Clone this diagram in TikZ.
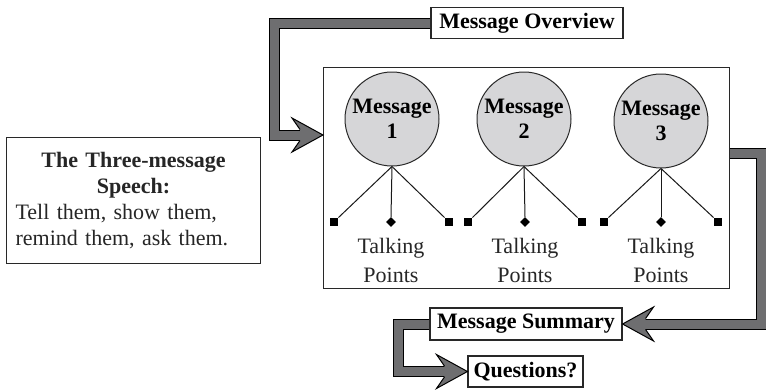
\documentclass[tikz,border=0pt]{standalone}
\usepackage{fontspec}
\setmainfont{Liberation Serif}
\usetikzlibrary{calc,shapes.geometric}
\definecolor{bandgray}{RGB}{110,110,112}
\definecolor{circgray}{RGB}{214,214,216}
\definecolor{edgegray}{RGB}{40,40,40}
\tikzset{
  box/.style={draw=edgegray, line width=1.1pt, fill=white, inner sep=0pt,
    font=\fontsize{22}{26}\selectfont\bfseries},
  msg/.style={circle, draw=edgegray, line width=1pt, fill=circgray,
    minimum size=94pt, inner sep=0pt, align=center,
    font=\fontsize{22}{25}\selectfont\bfseries},
  sq/.style={rectangle, fill=black, minimum size=8.5pt, inner sep=0pt},
  dm/.style={diamond, fill=black, minimum size=10pt, inner sep=0pt},
  tp/.style={align=center, font=\fontsize{22}{29}\selectfont, text=black!85},
  link/.style={line width=1pt, draw=black!90},
  band/.style={line width=1pt, double=bandgray, double distance=9pt, line join=miter},
  headtip/.pic={
    \fill[bandgray] (0,0) -- (-31,-17) -- (-23,-5.5) -- (-23,5.5) -- (-31,17) -- cycle;
    \draw[line width=1pt, line join=miter] (-23,-5.5) -- (-31,-17) -- (0,0) -- (-31,17) -- (-23,5.5);
  }
}
\begin{document}
\begin{tikzpicture}[x=1pt, y=-1pt]
\useasboundingbox (0,0) rectangle (766,389);

% main frame
\node[draw=edgegray, line width=1.1pt, fill=white, minimum width=406pt, minimum height=221pt,
      inner sep=0pt, anchor=north west] (main) at (323,67) {};

% left box
\node[draw=edgegray, line width=1.1pt, fill=white, minimum width=254pt, minimum height=126pt,
      inner sep=0pt, anchor=north west, text width=236pt, align=left,
      font=\fontsize{22}{26}\selectfont, text=black!85] (speech) at (6,137)
  {{\centering\bfseries The Three-message\\ Speech:\par}Tell them, show them,\\ remind them, ask them.};

% labels
\node[box, minimum width=192pt, minimum height=31pt] (ov) at (527,23) {Message Overview};
\node[box, minimum width=192pt, minimum height=32pt] (sum) at (526,324) {Message Summary};
\node[box, minimum width=115pt, minimum height=31pt] (q) at (525.5,371.5) {Questions?};

% circles
\node[msg] (m1) at (392,119) {Message\\1};
\node[msg] (m2) at (524,119) {Message\\2};
\node[msg] (m3) at (661,121) {Message\\3};

% talking points markers
\node[sq] (a1) at (334,222) {};
\node[dm] (b1) at (391,222) {};
\node[sq] (c1) at (449,222) {};
\node[sq] (a2) at (468,222) {};
\node[dm] (b2) at (525,222) {};
\node[sq] (c2) at (582,222) {};
\node[sq] (a3) at (604,222) {};
\node[dm] (b3) at (661,222) {};
\node[sq] (c3) at (718,222) {};

\foreach \m/\a/\b/\c in {m1/a1/b1/c1, m2/a2/b2/c2, m3/a3/b3/c3}{
  \draw[link] (\m.south) -- (\a.north east);
  \draw[link] (\m.south) -- (\b.north);
  \draw[link] (\m.south) -- (\c.north west);
}

\node[tp] (tp1) at (391,260) {Talking\\Points};
\node[tp] (tp2) at (525,260) {Talking\\Points};
\node[tp] (tp3) at (661,260) {Talking\\Points};

% thick flow arrows
\coordinate (t1) at ($(main.north west)+(0,68)$);
\draw[band] (ov.west) -| ($(t1)+(-49,0)$) -- ($(t1)+(-20,0)$);
\pic at (t1) {headtip};

\coordinate (r0) at ($(main.north east)+(0,86.5)$);
\draw[band] (r0) -- ++(31,0) |- ($(sum.east)+(20,0)$);
\pic[rotate=180] at (sum.east) {headtip};

\draw[band] (sum.west) -| ($(q.west)+(-69,0)$) -- ($(q.west)+(-20,0)$);
\pic at (q.west) {headtip};
\end{tikzpicture}
\end{document}
